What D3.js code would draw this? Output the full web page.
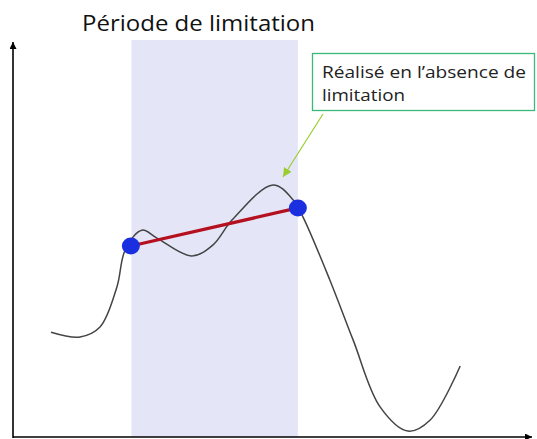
<!DOCTYPE html>
<html><head><meta charset="utf-8">
<script src="https://cdn.jsdelivr.net/npm/d3@7"></script>
<style>body{margin:0;background:#fff}svg{display:block}text{font-family:"Open Sans","Noto Sans",sans-serif}</style>
</head><body>
<svg id="c" width="537" height="439"></svg>
<script>
// Data (abstract units, x: 0..100 time, y: 0..100 level)
const curveX = [7.35,12.96,16.83,20.1,21.7,24.95,27.85,34.6,38.7,42.4,50.3,54.2,56.1,61.3,65.8,71.0,76.4,80.7,86.5];
const curveY = [26.4,25.2,27.7,37.8,47.1,52.1,50.1,45.6,48.4,54.7,63.5,59.7,55.4,39.5,24.4,7.6,1.5,4.3,17.9];
const periodStart = 22.9, periodEnd = 55.1;
const pointsX = [22.8, 55.1];
const pointsY = [48.1, 57.7];
const title = "Période de limitation";
const calloutLines = ["Réalisé en l’absence de", "limitation"];

const svg = d3.select("#c");
const x = d3.scaleLinear().domain([0,100]).range([13,530]);
const y = d3.scaleLinear().domain([0,100]).range([437,40]);

// shaded period
svg.append("rect").attr("x", x(periodStart)).attr("y", y(100))
  .attr("width", x(periodEnd)-x(periodStart)).attr("height", y(0)-y(100))
  .attr("fill", "#e4e6f8");

// axes with arrows
const defs = svg.append("defs");
defs.append("marker").attr("id","ah").attr("viewBox","0 0 10 10").attr("refX",10).attr("refY",5)
  .attr("markerWidth",7).attr("markerHeight",7).attr("markerUnits","userSpaceOnUse").attr("orient","auto")
  .append("path").attr("d","M0,0L10,5L0,10z").attr("fill","#000");
defs.append("marker").attr("id","ag").attr("viewBox","0 0 10 10").attr("refX",10).attr("refY",5)
  .attr("markerWidth",9).attr("markerHeight",9).attr("markerUnits","userSpaceOnUse").attr("orient","auto")
  .append("path").attr("d","M0,0L10,5L0,10z").attr("fill","#9acd32");

svg.append("line").attr("x1",x(0)).attr("y1",y(0)+1).attr("x2",x(0)).attr("y2",y(100)+2)
  .attr("stroke","#000").attr("stroke-width",1.6).attr("marker-end","url(#ah)");
svg.append("line").attr("x1",x(0)).attr("y1",y(0)).attr("x2",x(100)+2).attr("y2",y(0))
  .attr("stroke","#000").attr("stroke-width",1.6).attr("marker-end","url(#ah)");

// curve
const pts = curveX.map((v,i)=>[v, curveY[i]]);
svg.append("path").datum(pts)
  .attr("d", d3.line().x(d=>x(d[0])).y(d=>y(d[1])).curve(d3.curveCatmullRom.alpha(0.5)))
  .attr("fill","none").attr("stroke","#444").attr("stroke-width",1.5);

// red segment
svg.append("line").attr("x1",x(pointsX[0])).attr("y1",y(pointsY[0]))
  .attr("x2",x(pointsX[1])).attr("y2",y(pointsY[1]))
  .attr("stroke","#b5101f").attr("stroke-width",3.2);

// blue dots
svg.selectAll("ellipse.pt").data(pointsX).join("ellipse").attr("class","pt")
  .attr("cx",(d)=>x(d)).attr("cy",(d,i)=>y(pointsY[i])).attr("rx",9).attr("ry",8.5)
  .attr("fill","#1a2fe0");

// title
svg.append("text").attr("x",82).attr("y",31).attr("font-size",22).attr("fill","#111")
  .attr("textLength",233).attr("lengthAdjust","spacingAndGlyphs").text(title);

// callout
svg.append("rect").attr("x",312.5).attr("y",53.5).attr("width",222).attr("height",57)
  .attr("fill","#fff").attr("stroke","#3cb878").attr("stroke-width",1.3);
const lens = [204, 83];
svg.selectAll("text.co").data(calloutLines).join("text").attr("class","co")
  .attr("x",322).attr("y",(d,i)=>78+i*23).attr("font-size",17).attr("fill","#222")
  .attr("textLength",(d,i)=>lens[i]).attr("lengthAdjust","spacingAndGlyphs").text(d=>d);

svg.append("line").attr("x1",323).attr("y1",114).attr("x2",283).attr("y2",177)
  .attr("stroke","#9acd32").attr("stroke-width",1.2).attr("marker-end","url(#ag)");
</script>
</body></html>
